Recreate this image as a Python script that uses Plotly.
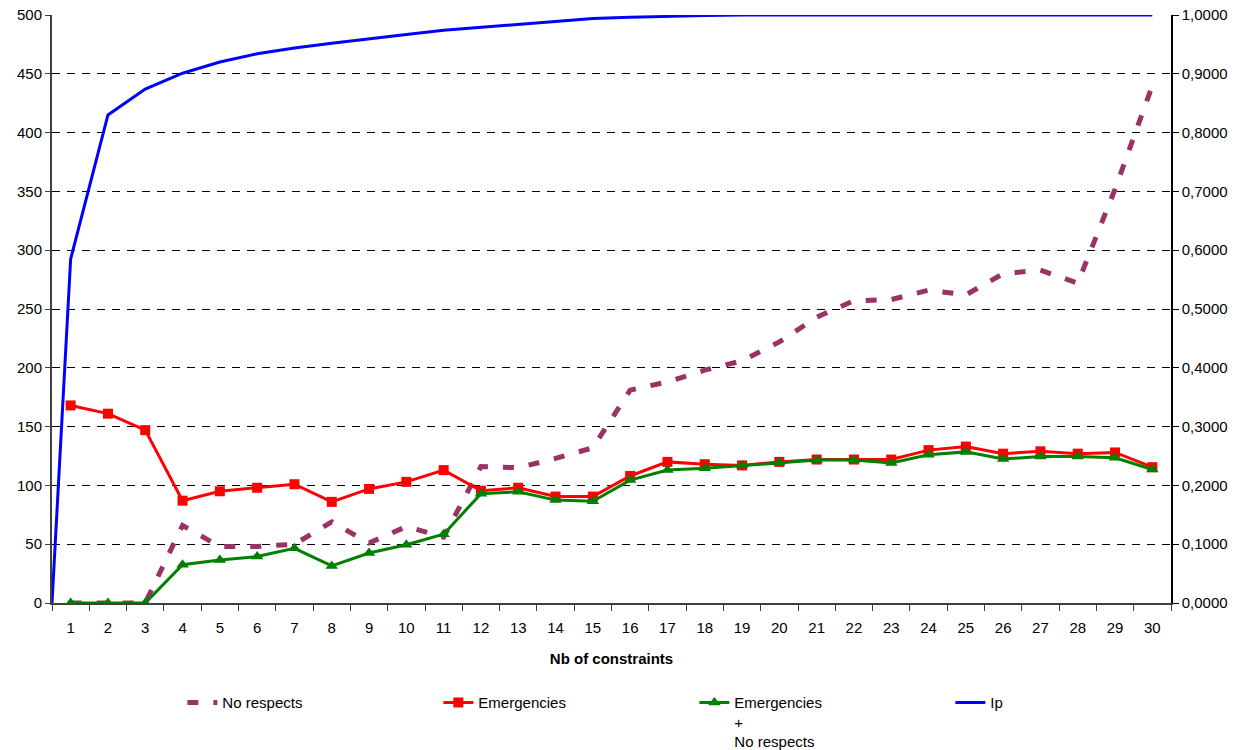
import plotly.graph_objects as go

# Number of constraints (x categories)
categories = list(range(1, 31))

# Left-axis series
no_respects = [0, 0, 0, 66, 48, 48, 50, 69, 51, 65, 56, 116, 115, 123, 132,
               181, 188, 198, 206, 222, 243, 257, 258, 266, 262, 280, 283, 272, 352, 440]
emergencies = [168, 161, 147, 87, 95, 98, 101, 86, 97, 103, 113, 95.5, 98, 90.5, 90.5,
               108, 120, 118, 117, 120, 122, 122, 122, 130, 133, 127, 129, 127, 128, 115.5]
emergencies_no_respects = [0, 0, 0, 32.5, 36.5, 39.5, 46.5, 31.5, 42.5, 49.5, 58.5, 93, 94.5,
                           87.5, 86.5, 104.5, 113, 114.5, 117, 119.5, 121.5, 121.5, 119,
                           126, 128.5, 122.5, 124.5, 124.5, 123.5, 113.5]

# Right-axis series (Ip), starting from the origin at the left edge
ip_x = [0.5] + categories
ip = [0, 0.585, 0.830, 0.874, 0.901, 0.920, 0.934, 0.944, 0.952, 0.960, 0.967,
      0.974, 0.979, 0.985, 0.990, 0.994, 0.996, 0.998, 0.999, 1.0, 1.0, 1.0,
      1.0, 1.0, 1.0, 1.0, 1.0, 1.0, 1.0, 1.0, 1.0]

left_ticks = list(range(0, 501, 50))
right_ticks = [i / 10 for i in range(11)]
right_labels = [f"{v:.4f}".replace(".", ",") for v in right_ticks]

FONT = "Arial, Liberation Sans, sans-serif"

fig = go.Figure()
fig.add_trace(go.Scatter(
    x=categories, y=no_respects, name="No respects", mode="lines",
    line=dict(color="#993366", width=5, dash="11px,15px"),
))
fig.add_trace(go.Scatter(
    x=categories, y=emergencies, name="Emergencies", mode="lines+markers",
    line=dict(color="#FF0000", width=3),
    marker=dict(symbol="square", size=10, color="#FF0000"),
))
fig.add_trace(go.Scatter(
    x=categories, y=emergencies_no_respects, name="Emergencies<br>+<br>No respects",
    mode="lines+markers",
    line=dict(color="#008000", width=3),
    marker=dict(symbol="triangle-up", size=11, color="#008000"),
))
fig.add_trace(go.Scatter(
    x=ip_x, y=ip, name="Ip", mode="lines", yaxis="y2",
    line=dict(color="#0000FF", width=3),
))

fig.update_layout(
    width=1241, height=750,
    margin=dict(l=52, r=70, t=15, b=147, autoexpand=False),
    paper_bgcolor="white", plot_bgcolor="white",
    font=dict(family=FONT, size=15, color="black"),
    showlegend=True,
    legend=dict(
        orientation="h", x=0.1165, xanchor="left", y=-0.1416, yanchor="top",
        entrywidth=211, entrywidthmode="pixels",
        font=dict(family=FONT, size=15, color="black"),
        traceorder="normal", valign="top",
    ),
    xaxis=dict(
        range=[0.5, 30.5], tickmode="array", tickvals=categories,
        ticktext=[str(c) for c in categories], ticks="",
        showgrid=False, zeroline=False, automargin=False,
        showline=True, linecolor="#404040", linewidth=2,
        tickfont=dict(size=15), ticklabelstandoff=10,
        minor=dict(tick0=0.5, dtick=1, ticks="outside", ticklen=6,
                   tickcolor="#404040", tickwidth=1, showgrid=False),
        title=dict(text="<b>Nb of constraints</b>", font=dict(size=15), standoff=18),
    ),
    yaxis=dict(
        range=[0, 500], tickmode="array", tickvals=left_ticks,
        ticks="outside", ticklen=5, tickcolor="#404040", automargin=False,
        showgrid=True, gridcolor="black", griddash="8px,7px", gridwidth=1,
        zeroline=False, showline=True, linecolor="#404040", linewidth=2,
        tickfont=dict(size=15),
    ),
    yaxis2=dict(
        range=[0, 1], overlaying="y", side="right", tickmode="array",
        tickvals=right_ticks, ticktext=right_labels, automargin=False,
        ticks="outside", ticklen=6, tickcolor="black",
        showgrid=False, zeroline=False, showline=True, linecolor="black", linewidth=1.5,
        tickfont=dict(size=15),
    ),
)

fig.write_html("out.html")
